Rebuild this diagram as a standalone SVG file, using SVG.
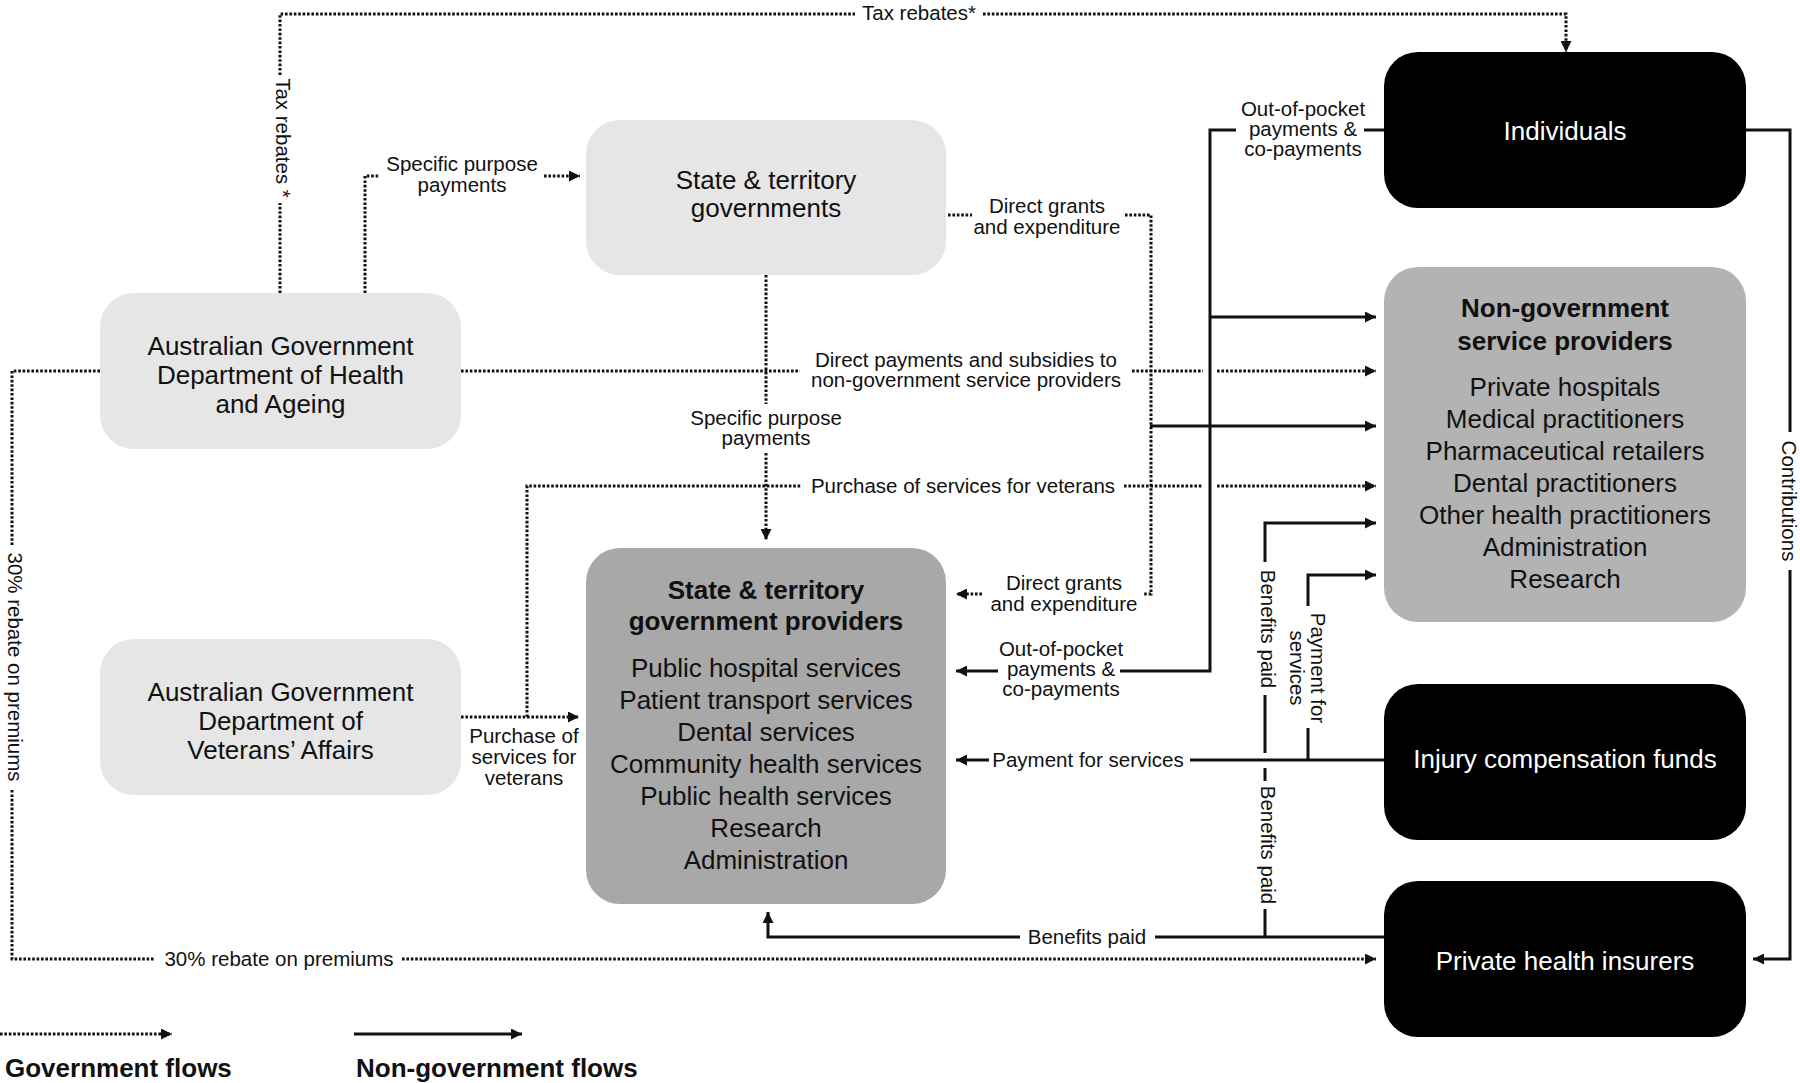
<svg xmlns="http://www.w3.org/2000/svg" width="1800" height="1083" viewBox="0 0 1800 1083">
<defs>
<style>
.lt{fill:#e6e6e6}
.dk{fill:#a8a8a8}
.md{fill:#b3b3b3}
.bk{fill:#000}
.nt{font-family:"Liberation Sans",Arial,sans-serif;font-size:26px;text-anchor:middle;fill:#111}
.nb{font-weight:bold}
.wt{fill:#fff}
.lb{font-family:"Liberation Sans",Arial,sans-serif;font-size:20.5px;text-anchor:middle;fill:#111}
.lg{font-family:"Liberation Sans",Arial,sans-serif;font-size:26px;font-weight:bold;fill:#111}
.gov{fill:none;stroke:#111;stroke-width:3;stroke-dasharray:2.6 1.8}
.ng{fill:none;stroke:#111;stroke-width:3}
</style>
<marker id="ah" viewBox="0 0 10 10" refX="10" refY="5" markerWidth="11" markerHeight="11" markerUnits="userSpaceOnUse" orient="auto">
<path d="M0,0 L10,5 L0,10 z" fill="#111"/>
</marker>
</defs>
<rect width="1800" height="1083" fill="#fff"/>

<g id="connectors">
<!-- Tax rebates -->
<path class="gov" d="M280,293 V203"/>
<path class="gov" d="M280,75 V14 H855"/>
<path class="gov" d="M983,14 H1566 V52" marker-end="url(#ah)"/>
<text class="lb" x="919" y="20">Tax rebates*</text>
<text class="lb" transform="translate(280,138) rotate(90)" x="0" y="4">Tax rebates *</text>
<!-- Specific purpose payments DHA -> SG -->
<path class="gov" d="M365,293 V176 H380"/>
<path class="gov" d="M544,176 H580" marker-end="url(#ah)"/>
<text class="lb" x="462" y="171">Specific purpose</text>
<text class="lb" x="462" y="192">payments</text>
<!-- Direct payments DHA -> NGSP -->
<path class="gov" d="M461,371 H800"/>
<path class="gov" d="M1132,371 H1203"/>
<path class="gov" d="M1217,371 H1376" marker-end="url(#ah)"/>
<text class="lb" x="966" y="367">Direct payments and subsidies to</text>
<text class="lb" x="966" y="387">non-government service providers</text>
<!-- 30% rebate -->
<path class="gov" d="M100,371 H12 V545"/>
<path class="gov" d="M12,790 V959 H155"/>
<path class="gov" d="M402,959 H1376" marker-end="url(#ah)"/>
<text class="lb" x="279" y="966">30% rebate on premiums</text>
<text class="lb" transform="translate(12,667) rotate(90)" x="0" y="4">30% rebate on premiums</text>
<!-- Specific purpose payments SG -> providers -->
<path class="gov" d="M766,275 V404"/>
<path class="gov" d="M766,453 V540" marker-end="url(#ah)"/>
<text class="lb" x="766" y="425">Specific purpose</text>
<text class="lb" x="766" y="445">payments</text>
<!-- Purchase of services for veterans -->
<path class="gov" d="M461,717 H579" marker-end="url(#ah)"/>
<path class="gov" d="M527,717 V486 H802"/>
<path class="gov" d="M1124,486 H1203"/>
<path class="gov" d="M1217,486 H1376" marker-end="url(#ah)"/>
<text class="lb" x="963" y="493">Purchase of services for veterans</text>
<text class="lb" x="524" y="743">Purchase of</text>
<text class="lb" x="524" y="764">services for</text>
<text class="lb" x="524" y="785">veterans</text>
<!-- Direct grants and expenditure -->
<path class="gov" d="M948,215 H972"/>
<path class="gov" d="M1125,215 H1151 V594 H1143"/>
<path class="gov" d="M982,594 H956" marker-end="url(#ah)"/>
<text class="lb" x="1047" y="213">Direct grants</text>
<text class="lb" x="1047" y="234">and expenditure</text>
<text class="lb" x="1064" y="590">Direct grants</text>
<text class="lb" x="1064" y="611">and expenditure</text>
<!-- Out-of-pocket payments -->
<path class="ng" d="M1384,130 H1364"/>
<path class="ng" d="M1236,130 H1210 V671 H1120"/>
<path class="ng" d="M998,671 H956" marker-end="url(#ah)"/>
<path class="ng" d="M1210,317 H1376" marker-end="url(#ah)"/>
<path class="ng" d="M1150,426 H1376" marker-end="url(#ah)"/>
<text class="lb" x="1303" y="116">Out-of-pocket</text>
<text class="lb" x="1303" y="136">payments &amp;</text>
<text class="lb" x="1303" y="156">co-payments</text>
<text class="lb" x="1061" y="656">Out-of-pocket</text>
<text class="lb" x="1061" y="676">payments &amp;</text>
<text class="lb" x="1061" y="696">co-payments</text>
<!-- Injury compensation: payment for services -->
<path class="ng" d="M1384,760 H1190"/>
<path class="ng" d="M989,760 H956" marker-end="url(#ah)"/>
<text class="lb" x="1088" y="767">Payment for services</text>
<path class="ng" d="M1308,760 V728"/>
<path class="ng" d="M1308,606 V575 H1376" marker-end="url(#ah)"/>
<text class="lb" transform="translate(1307,668) rotate(90)" x="0" y="-4">Payment for</text>
<text class="lb" transform="translate(1307,668) rotate(90)" x="0" y="17">services</text>
<!-- Private health insurers: benefits paid -->
<path class="ng" d="M1384,937 H1155"/>
<path class="ng" d="M1020,937 H768 V912" marker-end="url(#ah)"/>
<text class="lb" x="1087" y="944">Benefits paid</text>
<path class="ng" d="M1265,937 V909"/>
<path class="ng" d="M1265,781 V768"/>
<path class="ng" d="M1265,753 V695"/>
<path class="ng" d="M1265,562 V523 H1376" marker-end="url(#ah)"/>
<text class="lb" transform="translate(1265,845) rotate(90)" x="0" y="4">Benefits paid</text>
<text class="lb" transform="translate(1265,629) rotate(90)" x="0" y="4">Benefits paid</text>
<!-- Contributions -->
<path class="ng" d="M1746,130 H1790 V432"/>
<path class="ng" d="M1790,570 V959 H1753" marker-end="url(#ah)"/>
<text class="lb" transform="translate(1790,501) rotate(90)" x="0" y="8">Contributions</text>
<!-- Legend -->
<path class="gov" d="M0,1034 H172" marker-end="url(#ah)"/>
<path class="ng" d="M354,1034 H522" marker-end="url(#ah)"/>
</g>

<g id="legend">
<text class="lg" x="5" y="1077">Government flows</text>
<text class="lg" x="356" y="1077">Non-government flows</text>
</g>

<g id="node-dha">
<rect class="lt" x="100" y="293" width="361" height="156" rx="34"/>
<text class="nt" x="280.5" y="355">Australian Government</text>
<text class="nt" x="280.5" y="384">Department of Health</text>
<text class="nt" x="280.5" y="413">and Ageing</text>
</g>

<g id="node-state-gov">
<rect class="lt" x="586" y="120" width="360" height="155" rx="34"/>
<text class="nt" x="766" y="189">State &amp; territory</text>
<text class="nt" x="766" y="217">governments</text>
</g>

<g id="node-dva">
<rect class="lt" x="100" y="639" width="361" height="156" rx="34"/>
<text class="nt" x="280.5" y="701">Australian Government</text>
<text class="nt" x="280.5" y="730">Department of</text>
<text class="nt" x="280.5" y="759">Veterans’ Affairs</text>
</g>

<g id="node-state-providers">
<rect class="dk" x="586" y="548" width="360" height="356" rx="34"/>
<text class="nt nb" x="766" y="599">State &amp; territory</text>
<text class="nt nb" x="766" y="630">government providers</text>
<text class="nt" x="766" y="677">Public hospital services</text>
<text class="nt" x="766" y="709">Patient transport services</text>
<text class="nt" x="766" y="741">Dental services</text>
<text class="nt" x="766" y="773">Community health services</text>
<text class="nt" x="766" y="805">Public health services</text>
<text class="nt" x="766" y="837">Research</text>
<text class="nt" x="766" y="869">Administration</text>
</g>

<g id="node-individuals">
<rect class="bk" x="1384" y="52" width="362" height="156" rx="34"/>
<text class="nt wt" x="1565" y="140">Individuals</text>
</g>

<g id="node-ngsp">
<rect class="md" x="1384" y="267" width="362" height="355" rx="34"/>
<text class="nt nb" x="1565" y="317">Non-government</text>
<text class="nt nb" x="1565" y="350">service providers</text>
<text class="nt" x="1565" y="396">Private hospitals</text>
<text class="nt" x="1565" y="428">Medical practitioners</text>
<text class="nt" x="1565" y="460">Pharmaceutical retailers</text>
<text class="nt" x="1565" y="492">Dental practitioners</text>
<text class="nt" x="1565" y="524">Other health practitioners</text>
<text class="nt" x="1565" y="556">Administration</text>
<text class="nt" x="1565" y="588">Research</text>
</g>

<g id="node-injury">
<rect class="bk" x="1384" y="684" width="362" height="156" rx="34"/>
<text class="nt wt" x="1565" y="768">Injury compensation funds</text>
</g>

<g id="node-insurers">
<rect class="bk" x="1384" y="881" width="362" height="156" rx="34"/>
<text class="nt wt" x="1565" y="970">Private health insurers</text>
</g>
</svg>
